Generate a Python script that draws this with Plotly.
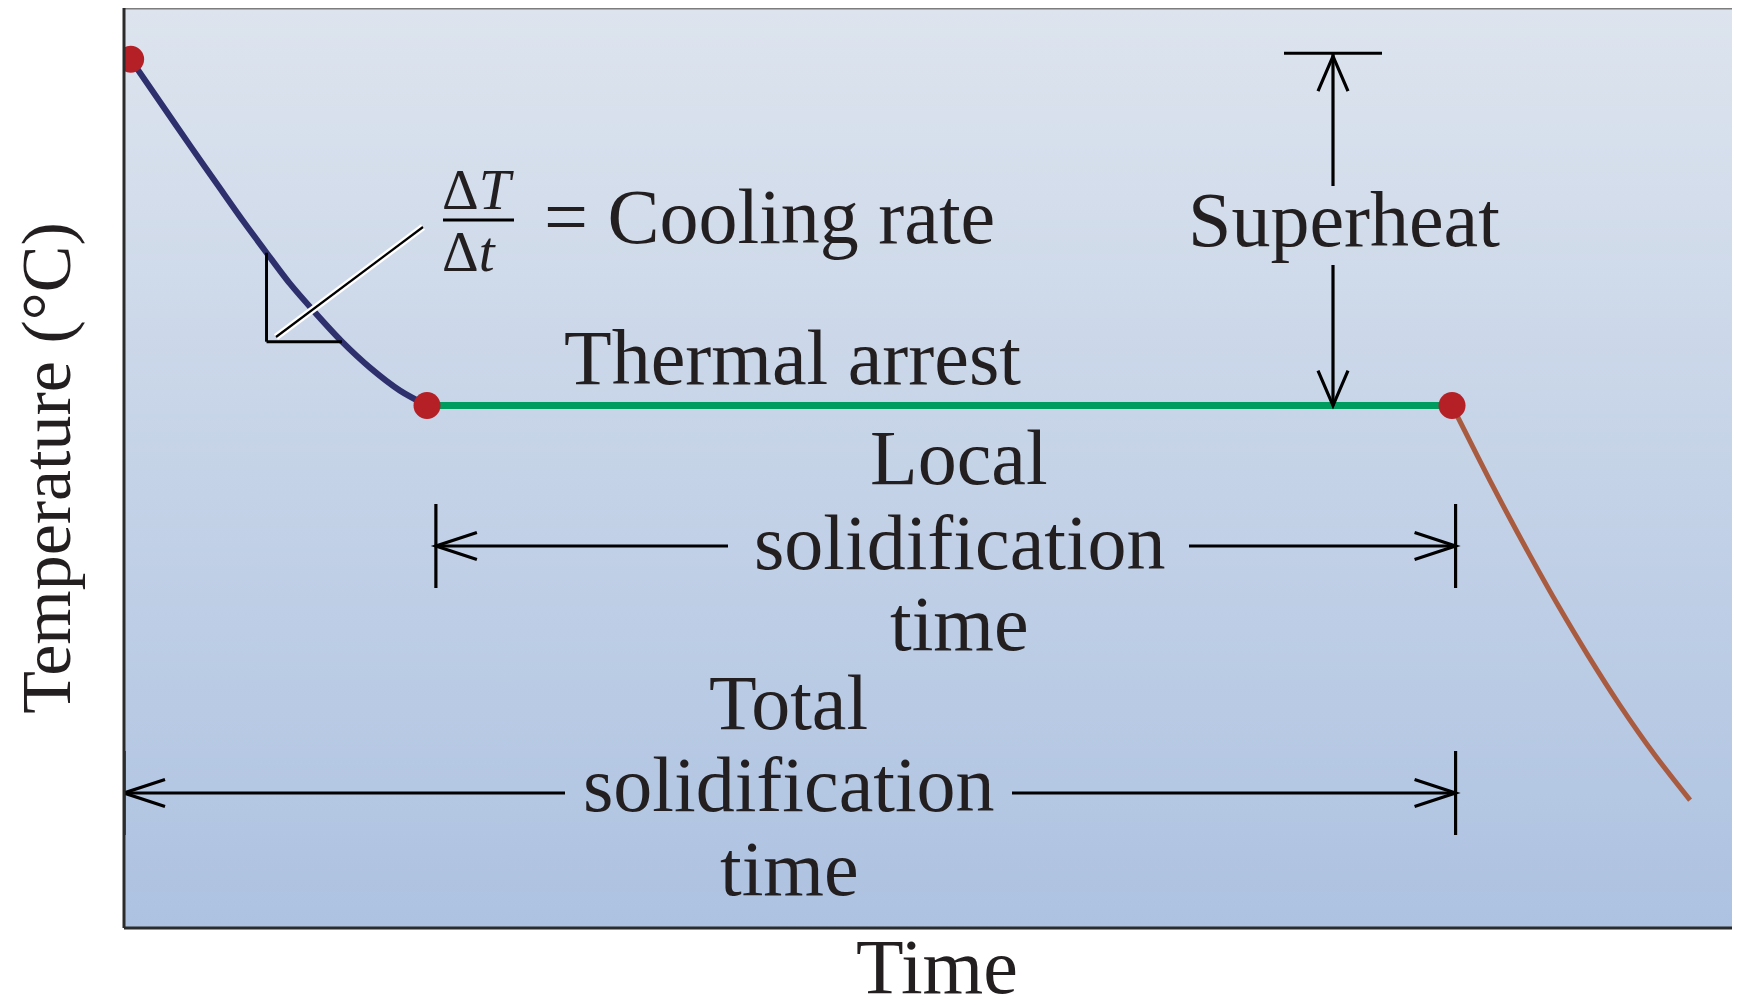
import plotly.graph_objects as go

# ---------------- data (arbitrary units: time 0-100, temperature 0-100) ----------------
cool_time = [0.41, 2.23, 4.08, 5.94, 7.36, 8.82, 10.27, 11.88, 13.49, 15.22, 17.08, 18.75]
cool_temp = [94.43, 89.79, 85.07, 80.40, 76.87, 73.40, 70.03, 66.78, 63.73, 60.91, 58.41, 56.79]
arrest_time = [18.75, 82.18]
arrest_temp = [56.79, 56.79]
solid_time = [82.18, 83.73, 85.33, 87.00, 88.74, 90.59, 92.57, 94.74, 96.91]
solid_temp = [56.79, 51.36, 45.93, 40.50, 35.07, 29.64, 24.21, 18.78, 13.90]
key_time = [0.41, 18.75, 82.18]
key_temp = [94.43, 56.79, 56.79]
local_span = [19.3, 82.4]     # local solidification time (start, end)
total_span = [0.0, 82.4]      # total solidification time (start, end)

# ---------------- layout geometry ----------------
OFF = 8                      # page offset of the figure (body margin)
W, H = 1732, 989
ML, MR, MT, MB = 116, 0, 0, 69
X_RANGE = [0, 100]
Y_RANGE = [0, 100]
PW, PH = W - ML - MR, H - MT - MB
UX = (X_RANGE[1] - X_RANGE[0]) / PW   # data units per pixel
UY = (Y_RANGE[1] - Y_RANGE[0]) / PH


def X(px):
    """page pixel x -> data x"""
    return X_RANGE[0] + (px - OFF - ML) * UX


def Y(py):
    """page pixel y -> data y"""
    return Y_RANGE[0] + (H - MB - (py - OFF)) * UY


def YP(py):
    """page pixel y -> paper y"""
    return (H - MB - (py - OFF)) / PH


FONT = "Liberation Serif, Times New Roman, serif"
TXT = "#231f20"
FS = 78
ARROW_W = 3.2

fig = go.Figure()

# background gradient
fig.add_trace(go.Scatter(
    x=[X_RANGE[0], X_RANGE[1], X_RANGE[1], X_RANGE[0], X_RANGE[0]],
    y=[Y_RANGE[0], Y_RANGE[0], Y_RANGE[1], Y_RANGE[1], Y_RANGE[0]],
    mode="lines", line=dict(width=0), fill="toself",
    fillgradient=dict(type="vertical", start=Y_RANGE[0], stop=Y_RANGE[1],
                      colorscale=[[0, "#adc2e1"], [1, "#dde4ee"]]),
    hoverinfo="skip", showlegend=False))

# curves
fig.add_trace(go.Scatter(x=cool_time, y=cool_temp, mode="lines",
                         line=dict(color="#2e306e", width=6, shape="spline", smoothing=0.8),
                         showlegend=False))
fig.add_trace(go.Scatter(x=arrest_time, y=arrest_temp, mode="lines",
                         line=dict(color="#009b5f", width=7), showlegend=False))
fig.add_trace(go.Scatter(x=solid_time, y=solid_temp, mode="lines",
                         line=dict(color="#a95b40", width=5, shape="spline", smoothing=0.8),
                         showlegend=False))
fig.add_trace(go.Scatter(x=key_time, y=key_temp, mode="markers",
                         marker=dict(color="#b51f26", size=27), showlegend=False))

shapes = []


def line(x0, y0, x1, y1, color="black", width=ARROW_W):
    shapes.append(dict(type="line", xref="x", yref="y", x0=x0, y0=y0, x1=x1, y1=y1,
                       line=dict(color=color, width=width)))


def hhead(xt, yt, d, L=41, hw=13.5):
    xb = xt - d * L * UX
    shapes.append(dict(type="path", xref="x", yref="y",
                       path=f"M{xb},{yt + hw * UY} L{xt},{yt} L{xb},{yt - hw * UY}",
                       line=dict(color="black", width=ARROW_W)))


def vhead(xt, yt, d, L=35, hw=15):
    yb = yt - d * L * UY
    shapes.append(dict(type="path", xref="x", yref="y",
                       path=f"M{xt - hw * UX},{yb} L{xt},{yt} L{xt + hw * UX},{yb}",
                       line=dict(color="black", width=ARROW_W)))


def dimension(xa, xb, y, gap_a, gap_b, tick_half=42):
    line(xa, y - tick_half * UY, xa, y + tick_half * UY)
    line(xb, y - tick_half * UY, xb, y + tick_half * UY)
    line(xa, y, gap_a, y)
    line(gap_b, y, xb, y)
    hhead(xa, y, -1)
    hhead(xb, y, 1)


# local solidification time
dimension(local_span[0], local_span[1], Y(546), X(728), X(1189))
# total solidification time
dimension(total_span[0], total_span[1], Y(793), X(565), X(1012))

# superheat
xs = X(1333)
t_pour, t_arrest = key_temp[0], arrest_temp[0]
line(xs - 49 * UX, t_pour + 6 * UY, xs + 49 * UX, t_pour + 6 * UY)
line(xs, t_pour + 6 * UY, xs, Y(186))
vhead(xs, t_pour + 3 * UY, 1)
line(xs, Y(265), xs, t_arrest)
vhead(xs, t_arrest, -1)

# slope triangle built on the cooling curve
i0, i1 = 5, 8
line(cool_time[i0], cool_temp[i0], cool_time[i0], cool_temp[i1], width=3)
line(cool_time[i0], cool_temp[i1], cool_time[i1], cool_temp[i1], width=3)
# leader line (white outline + black core)
line(X(276), Y(337), X(423), Y(227), color="white", width=7)
line(X(276), Y(337), X(423), Y(227), color="black", width=2.2)
# fraction bar
line(X(443), Y(220), X(514), Y(220), width=3)

# frame
shapes.append(dict(type="line", xref="paper", yref="paper", x0=0, x1=1, y0=1, y1=1,
                   line=dict(color="#7d7d7d", width=3)))
shapes.append(dict(type="line", xref="paper", yref="paper", x0=0, x1=1, y0=0, y1=0,
                   line=dict(color="#2b2b2b", width=3)))
shapes.append(dict(type="line", xref="paper", yref="paper", x0=0, x1=0, y0=0, y1=1,
                   line=dict(color="#2b2b2b", width=3)))

annotations = []


def text(t, px, py, size=FS, xanchor="center", yanchor="middle", paper_y=False):
    annotations.append(dict(text=t, x=X(px), xref="x",
                            y=YP(py) if paper_y else Y(py),
                            yref="paper" if paper_y else "y",
                            showarrow=False, xanchor=xanchor, yanchor=yanchor,
                            borderpad=0,
                            font=dict(family=FONT, size=size, color=TXT)))


text("Superheat", 1344, 219)
text("Thermal arrest", 792, 357)
text("Local", 959, 457)
text("solidification", 960, 542)
text("time", 959, 623)
text("Total", 788, 702)
text("solidification", 789, 784)
text("time", 789, 868)
text("Δ<i>T</i>", 441, 222, size=57, xanchor="left", yanchor="bottom")
text("Δ<i>t</i>", 441, 219, size=57, xanchor="left", yanchor="top")
text("= Cooling rate", 543, 216, xanchor="left")
# x-axis title (placed explicitly, below the frame)
text("Time", 937, 966, paper_y=True)

fig.update_layout(
    width=W, height=H,
    margin=dict(l=ML, r=MR, t=MT, b=MB),
    paper_bgcolor="white", plot_bgcolor="white",
    shapes=shapes, annotations=annotations,
    xaxis=dict(range=X_RANGE, showgrid=False, zeroline=False, showticklabels=False,
               ticks="", showline=False, automargin=False),
    yaxis=dict(range=Y_RANGE, showgrid=False, zeroline=False, showticklabels=False,
               ticks="", showline=False, automargin=False,
               title=dict(text="Temperature (°C)", standoff=35,
                          font=dict(family=FONT, size=70, color=TXT))),
    showlegend=False,
)

fig.write_html("out.html")
